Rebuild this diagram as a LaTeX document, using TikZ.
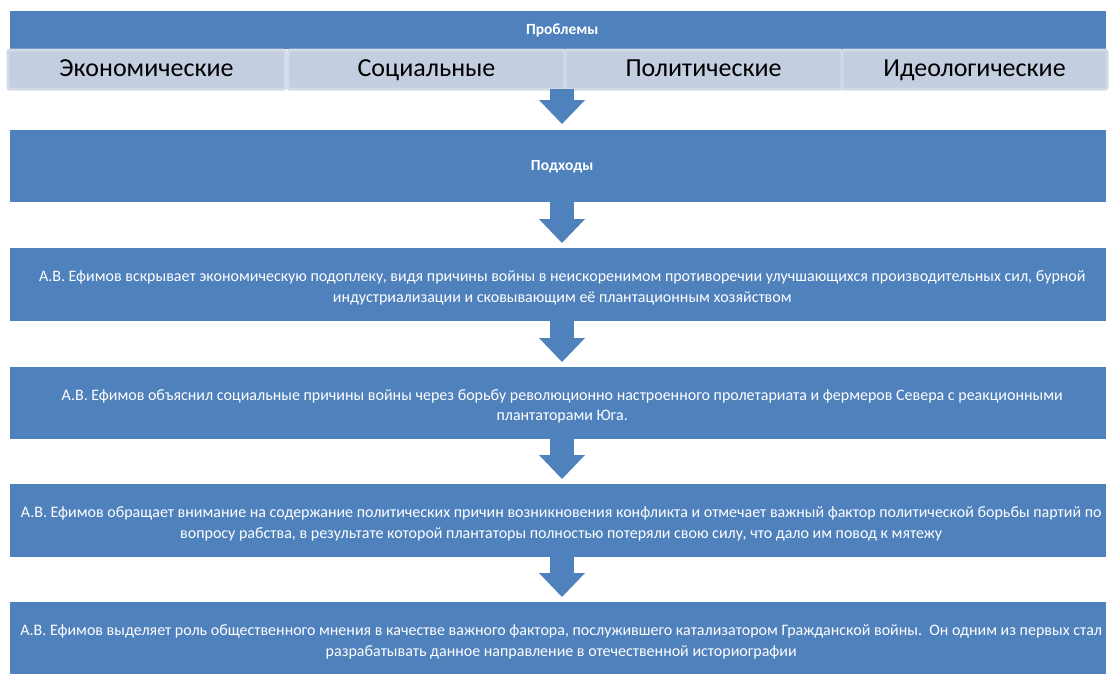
\documentclass[tikz,border=0pt]{standalone}
\usepackage{fontspec}
\setmainfont{Carlito}
\usetikzlibrary{arrows.meta}
\definecolor{accblue}{HTML}{4F81BD}
\definecolor{lightbox}{HTML}{C3CEE1}
\definecolor{lightedge}{HTML}{D2DAE8}
\begin{document}
\begin{tikzpicture}[x=1pt,y=-1pt,
  bluebox/.style={fill=accblue, draw=none, minimum width=1096pt, inner sep=0pt, anchor=north west},
  bodytext/.style={text=white, inner sep=0pt, align=center, font=\fontsize{16.0}{20.5}\selectfont},
  titletext/.style={text=white, inner sep=0pt, align=center, font=\fontsize{15.5}{18}\bfseries\selectfont},
  catbox/.style={fill=lightbox, draw=lightedge, line width=3pt, rounded corners=2pt, minimum width=277pt, minimum height=39pt, inner sep=0pt, anchor=north west, text=black, text height=18pt, text depth=5pt, font=\fontsize{26}{30}\selectfont},
  flow/.style={draw=accblue, line width=24pt, -{Triangle[width=46pt,length=24pt,line width=0pt]}}
]
\useasboundingbox (0,0) rectangle (1109,673);
% top: problems
\node[bluebox, minimum height=38pt] (b1) at (10,11) {};
\node[titletext] (t1) at ([xshift=4pt]b1.center) {Проблемы};
\node[catbox] (p1) at (6.5,48.5) {Экономические};
\node[catbox] (p2) at (286.5,48.5) {Социальные};
\node[catbox] (p3) at (563.5,48.5) {Политические};
\node[catbox, minimum width=265pt] (p4) at (840.5,48.5) {Идеологические};
% approaches
\node[bluebox, minimum height=72pt] (b2) at (10,130) {};
\node[titletext] (t2) at ([xshift=4pt,yshift=-1pt]b2.center) {Подходы};
\node[bluebox, minimum height=73pt] (b3) at (10,248) {};
\node[bodytext] (t3) at ([xshift=4pt,yshift=-3pt]b3.center) {А.В. Ефимов вскрывает экономическую подоплеку, видя причины войны в неискоренимом противоречии улучшающихся производительных сил, бурной\\индустриализации и сковывающим её плантационным хозяйством};
\node[bluebox, minimum height=72pt] (b4) at (10,367) {};
\node[bodytext] (t4) at ([xshift=4pt,yshift=-3pt]b4.center) {А.В. Ефимов объяснил социальные причины войны через борьбу революционно настроенного пролетариата и фермеров Севера с реакционными\\плантаторами Юга.};
\node[bluebox, minimum height=73pt] (b5) at (10,484) {};
\node[bodytext] (t5) at ([xshift=3pt,yshift=-3pt]b5.center) {А.В. Ефимов обращает внимание на содержание политических причин возникновения конфликта и отмечает важный фактор политической борьбы партий по\\вопросу рабства, в результате которой плантаторы полностью потеряли свою силу, что дало им повод к мятежу};
\node[bluebox, minimum height=73pt] (b6) at (10,602) {};
\node[bodytext] (t6) at ([xshift=3pt,yshift=-3pt]b6.center) {А.В. Ефимов выделяет роль общественного мнения в качестве важного фактора, послужившего катализатором Гражданской войны.\ \ Он одним из первых стал\\разрабатывать данное направление в отечественной историографии};
% arrows
\coordinate (ax) at (562,0);
\draw[flow] ([yshift=1.5pt]p2.south -| ax) -- ([yshift=6pt]b2.north -| ax);
\draw[flow] (b2.south -| ax) -- ([yshift=5pt]b3.north -| ax);
\draw[flow] (b3.south -| ax) -- ([yshift=5pt]b4.north -| ax);
\draw[flow] (b4.south -| ax) -- ([yshift=5pt]b5.north -| ax);
\draw[flow] (b5.south -| ax) -- ([yshift=5pt]b6.north -| ax);
\end{tikzpicture}
\end{document}
